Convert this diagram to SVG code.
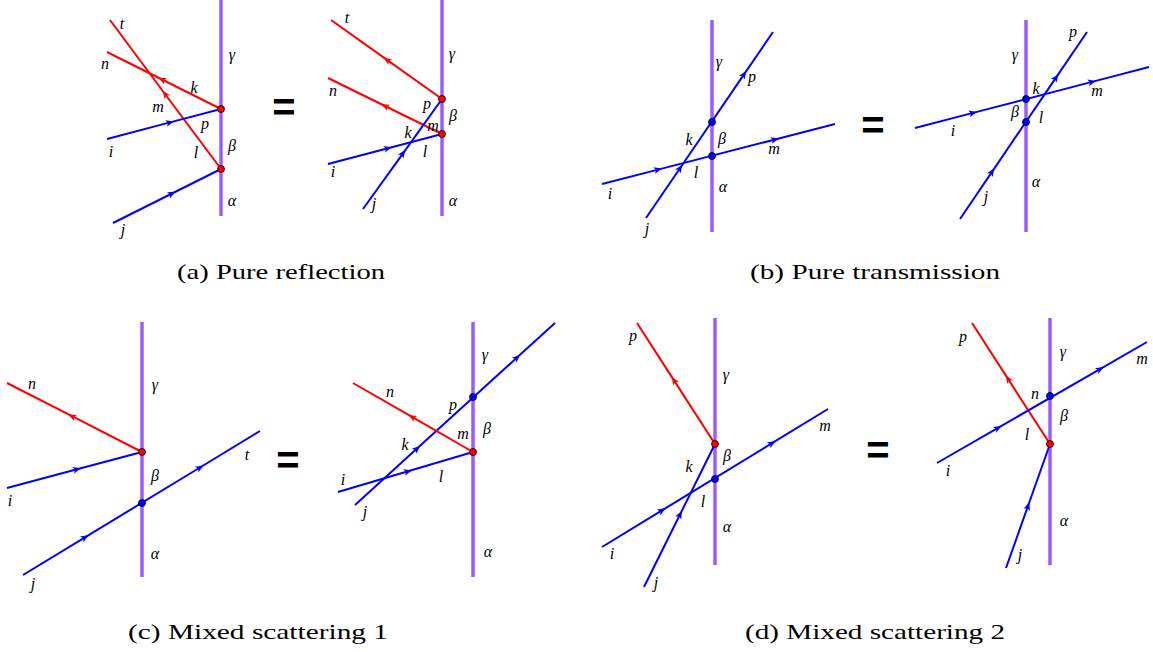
<svg xmlns="http://www.w3.org/2000/svg" width="1153" height="652" viewBox="0 0 1153 652">
<style>
.wall{stroke:#9b5cff;stroke-width:3.5;fill:none}
.b{stroke:#0000ff;stroke-width:2;fill:none;marker-mid:url(#ab)}
.r{stroke:#ff0000;stroke-width:2;fill:none;marker-mid:url(#ar)}
.dr{fill:#ff0000;stroke:#000;stroke-width:0.8}
.db{fill:#0000ff;stroke:#000;stroke-width:0.8}
.lb{font-family:'Liberation Serif','Times New Roman',Times,serif;font-style:italic;font-size:16px;fill:#000;text-anchor:middle}
.eq{font-family:'Liberation Sans',Arial,sans-serif;font-weight:bold;font-size:40px;fill:#000;text-anchor:middle}
.cap{font-family:'Liberation Serif','Times New Roman',Times,serif;font-size:22px;fill:#000}
</style>
<defs>
<marker id="ab" viewBox="-5 -4 10 8" markerWidth="10" markerHeight="8" refX="0" refY="0" orient="auto" markerUnits="userSpaceOnUse"><path d="M4,0 L-4,-3.4 L-2,0 L-4,3.4 Z" fill="#0000ff"/></marker>
<marker id="ar" viewBox="-5 -4 10 8" markerWidth="10" markerHeight="8" refX="0" refY="0" orient="auto" markerUnits="userSpaceOnUse"><path d="M4,0 L-4,-3.4 L-2,0 L-4,3.4 Z" fill="#ff0000"/></marker>
</defs>

<!-- Panel (a) left -->
<g id="a-left">
<line class="wall" x1="221" y1="0" x2="221" y2="216"/>
<g id="a-left-connectors">
<path class="r" d="M221,169 L165,94 L110,20"/>
<path class="r" d="M221,109 L162,79.5 L107,52"/>
<path class="b" d="M107,139 L170,122.4 L221,109"/>
<path class="b" d="M113,223 L172,193.5 L221,169"/>
</g>
<circle class="dr" cx="221" cy="109" r="3.5"/>
<circle class="dr" cx="221" cy="169" r="3.5"/>
<text class="lb" x="122" y="29">t</text>
<text class="lb" x="105" y="69">n</text>
<text class="lb" x="194" y="93">k</text>
<text class="lb" x="232" y="60">γ</text>
<text class="lb" x="158" y="112">m</text>
<text class="lb" x="205" y="129">p</text>
<text class="lb" x="111" y="157">i</text>
<text class="lb" x="196" y="158">l</text>
<text class="lb" x="232" y="151">β</text>
<text class="lb" x="232" y="206">α</text>
<text class="lb" x="123" y="235">j</text>
</g>
<text class="eq" x="284" y="121">=</text>

<!-- Panel (a) right -->
<g id="a-right">
<line class="wall" x1="442" y1="0" x2="442" y2="216"/>
<g id="a-right-connectors">
<path class="r" d="M442,99 L387,59.9 L331,20"/>
<path class="r" d="M442,134 L385,106 L328,78"/>
<path class="b" d="M328,164 L388,148.2 L442,134"/>
<path class="b" d="M363,209 L403,153.3 L442,99"/>
</g>
<circle class="dr" cx="442" cy="99" r="3.5"/>
<circle class="dr" cx="442" cy="134" r="3.5"/>
<text class="lb" x="347" y="23">t</text>
<text class="lb" x="333" y="96">n</text>
<text class="lb" x="452" y="59">γ</text>
<text class="lb" x="427" y="109">p</text>
<text class="lb" x="453" y="121">β</text>
<text class="lb" x="433" y="131">m</text>
<text class="lb" x="408" y="138">k</text>
<text class="lb" x="425" y="157">l</text>
<text class="lb" x="333" y="177">i</text>
<text class="lb" x="374" y="209">j</text>
<text class="lb" x="453" y="206">α</text>
</g>
<text class="cap" x="177" y="279" textLength="208" lengthAdjust="spacingAndGlyphs">(a) Pure reflection</text>

<!-- Panel (b) left -->
<g id="b-left">
<line class="wall" x1="712" y1="20" x2="712" y2="232"/>
<g id="b-left-connectors">
<path class="b" d="M646,218 L680,168.2 L744,74.4 L773,32"/>
<path class="b" d="M602,184 L658,169.6 L775,139.5 L835,124"/>
</g>
<circle class="db" cx="712" cy="122" r="3.5"/>
<circle class="db" cx="712" cy="156" r="3.5"/>
<text class="lb" x="719" y="67">γ</text>
<text class="lb" x="752" y="82">p</text>
<text class="lb" x="689" y="145">k</text>
<text class="lb" x="722" y="144">β</text>
<text class="lb" x="774" y="154">m</text>
<text class="lb" x="696" y="178">l</text>
<text class="lb" x="723" y="192">α</text>
<text class="lb" x="610" y="199">i</text>
<text class="lb" x="647" y="234">j</text>
</g>
<text class="eq" x="873" y="139">=</text>

<!-- Panel (b) right -->
<g id="b-right">
<line class="wall" x1="1026" y1="20" x2="1026" y2="232"/>
<g id="b-right-connectors">
<path class="b" d="M915,128 L973,112.9 L1092,81.9 L1149,67"/>
<path class="b" d="M960,219 L992,171.9 L1056,77.6 L1087,32"/>
</g>
<circle class="db" cx="1026" cy="99" r="3.5"/>
<circle class="db" cx="1026" cy="122" r="3.5"/>
<text class="lb" x="1073" y="37">p</text>
<text class="lb" x="1015" y="60">γ</text>
<text class="lb" x="1036" y="94">k</text>
<text class="lb" x="1097" y="96">m</text>
<text class="lb" x="1015" y="117">β</text>
<text class="lb" x="1041" y="123">l</text>
<text class="lb" x="1036" y="187">α</text>
<text class="lb" x="953" y="136">i</text>
<text class="lb" x="986" y="202">j</text>
</g>
<text class="cap" x="750" y="279" textLength="250" lengthAdjust="spacingAndGlyphs">(b) Pure transmission</text>

<!-- Panel (c) left -->
<g id="c-left">
<line class="wall" x1="142" y1="322" x2="142" y2="577"/>
<g id="c-left-connectors">
<path class="r" d="M142,452 L72,416.2 L7,383"/>
<path class="b" d="M7,488 L77,469.3 L142,452"/>
<path class="b" d="M23,575 L85,537.3 L200,467.5 L260,431"/>
</g>
<circle class="dr" cx="142" cy="452" r="3.5"/>
<circle class="db" cx="142" cy="503" r="3.5"/>
<text class="lb" x="32" y="389">n</text>
<text class="lb" x="155" y="390">γ</text>
<text class="lb" x="247" y="460">t</text>
<text class="lb" x="155" y="481">β</text>
<text class="lb" x="10" y="506">i</text>
<text class="lb" x="155" y="559">α</text>
<text class="lb" x="33" y="589">j</text>
</g>
<text class="eq" x="288" y="474">=</text>

<!-- Panel (c) right -->
<g id="c-right">
<line class="wall" x1="473" y1="322" x2="473" y2="577"/>
<g id="c-right-connectors">
<path class="b" d="M355,505 L417,448.6 L517,357.6 L555,323"/>
<path class="b" d="M338,492 L408,471.3 L473,452"/>
<path class="r" d="M473,452 L412,416.9 L353,383"/>
</g>
<circle class="db" cx="473" cy="397" r="3.5"/>
<circle class="dr" cx="473" cy="452" r="3.5"/>
<text class="lb" x="485" y="360">γ</text>
<text class="lb" x="390" y="397">n</text>
<text class="lb" x="453" y="410">p</text>
<text class="lb" x="463" y="439">m</text>
<text class="lb" x="487" y="434">β</text>
<text class="lb" x="405" y="450">k</text>
<text class="lb" x="343" y="485">i</text>
<text class="lb" x="441" y="482">l</text>
<text class="lb" x="365" y="517">j</text>
<text class="lb" x="488" y="557">α</text>
</g>
<text class="cap" x="128" y="639" textLength="260" lengthAdjust="spacingAndGlyphs">(c) Mixed scattering 1</text>

<!-- Panel (d) left -->
<g id="d-left">
<line class="wall" x1="715" y1="318" x2="715" y2="565"/>
<g id="d-left-connectors">
<path class="r" d="M715,444 L674,380.4 L637,323"/>
<path class="b" d="M644,587 L680,514.5 L715,444"/>
<path class="b" d="M602,547 L662,510.4 L772,443.2 L828,409"/>
</g>
<circle class="dr" cx="715" cy="444" r="3.5"/>
<circle class="db" cx="715" cy="479" r="3.5"/>
<text class="lb" x="633" y="341">p</text>
<text class="lb" x="726" y="380">γ</text>
<text class="lb" x="825" y="431">m</text>
<text class="lb" x="689" y="472">k</text>
<text class="lb" x="727" y="461">β</text>
<text class="lb" x="703" y="507">l</text>
<text class="lb" x="727" y="532">α</text>
<text class="lb" x="612" y="559">i</text>
<text class="lb" x="656" y="588">j</text>
</g>
<text class="eq" x="878" y="464">=</text>

<!-- Panel (d) right -->
<g id="d-right">
<line class="wall" x1="1050" y1="318" x2="1050" y2="565"/>
<g id="d-right-connectors">
<path class="r" d="M1050,444 L1008,378.9 L972,323"/>
<path class="b" d="M937,463 L998,427.9 L1100,369.1 L1147,342"/>
<path class="b" d="M1006,568 L1028,506 L1050,444"/>
</g>
<circle class="db" cx="1050" cy="396" r="3.5"/>
<circle class="dr" cx="1050" cy="444" r="3.5"/>
<text class="lb" x="963" y="342">p</text>
<text class="lb" x="1063" y="357">γ</text>
<text class="lb" x="1142" y="364">m</text>
<text class="lb" x="1035" y="399">n</text>
<text class="lb" x="1064" y="421">β</text>
<text class="lb" x="1027" y="440">l</text>
<text class="lb" x="948" y="476">i</text>
<text class="lb" x="1064" y="526">α</text>
<text class="lb" x="1020" y="560">j</text>
</g>
<text class="cap" x="745" y="639" textLength="260" lengthAdjust="spacingAndGlyphs">(d) Mixed scattering 2</text>
</svg>
